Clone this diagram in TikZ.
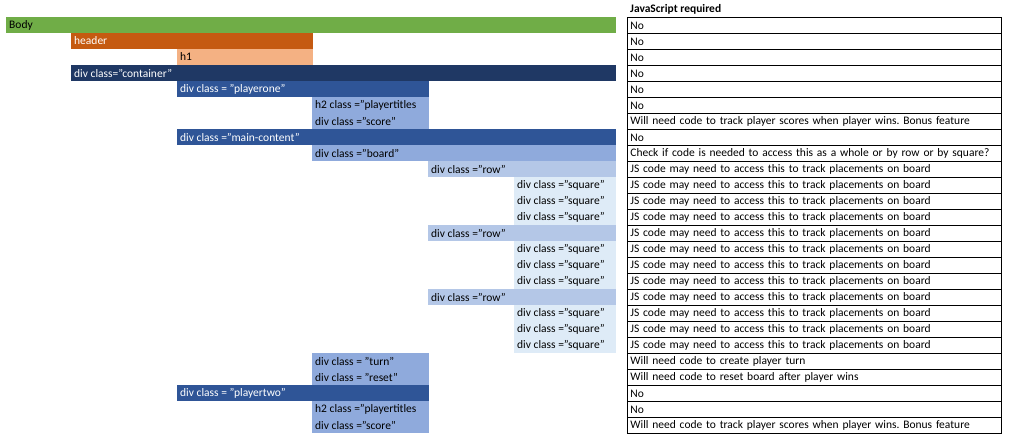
\documentclass[tikz,border=0pt]{standalone}
\usepackage{fontspec}
\setmainfont{Carlito}
\frenchspacing

\definecolor{bodygreen}{HTML}{70AD47}
\definecolor{headorange}{HTML}{C55A11}
\definecolor{hpeach}{HTML}{F4B183}
\definecolor{contnavy}{HTML}{1F3864}
\definecolor{divblue}{HTML}{2F5597}
\definecolor{midblue}{HTML}{8FAADC}
\definecolor{rowblue}{HTML}{B4C7E7}
\definecolor{sqblue}{HTML}{DEEBF7}

\tikzset{
  lbl/.style = {anchor=west, inner xsep=3pt, inner ysep=0pt, font=\fontsize{11.5}{13}\selectfont},
  jscell/.style = {draw, line width=0.8pt, anchor=north west, minimum width=374pt, minimum height=16pt,
    text width=368pt, inner xsep=3pt, inner ysep=0pt, align=left, font=\fontsize{11.5}{13}\selectfont}
}

% name, left, right, row, fill, text colour, text
\newcommand\cellbar[7]{%
  \fill[#5] (#2,{16*(#4)+1}) rectangle (#3,{16*(#4)+17});
  \node[lbl, text=#6] (#1) at (#2,{16*(#4)+9}) {#7};}

\begin{document}
\begin{tikzpicture}[x=1pt,y=-1pt]
\useasboundingbox (0,0) rectangle (1013,445);

% page structure
\cellbar{body}{6}{616}{1}{bodygreen}{black}{Body}
\cellbar{header}{71}{313}{2}{headorange}{white}{header}
\cellbar{hone}{177}{313}{3}{hpeach}{black}{h1}
\cellbar{container}{71}{616}{4}{contnavy}{white}{div class="container"}
\cellbar{playerone}{177}{429}{5}{divblue}{white}{div class = "playerone"}
\cellbar{titlesone}{312}{429}{6}{midblue}{black}{h2 class ="playertitles}
\cellbar{scoreone}{312}{429}{7}{midblue}{black}{div class ="score"}
\cellbar{maincontent}{177}{616}{8}{divblue}{white}{div class ="main-content"}
\cellbar{board}{312}{616}{9}{midblue}{black}{div class ="board"}

% board rows and squares
\foreach \k in {0,1,2}{
  \cellbar{row\k}{428}{616}{10+4*\k}{rowblue}{black}{div class ="row"}
  \foreach \s in {1,2,3}{
    \cellbar{sq\k\s}{514}{616}{10+4*\k+\s}{sqblue}{black}{div class ="square"}
  }
}

\cellbar{turn}{312}{429}{22}{midblue}{black}{div class = "turn"}
\cellbar{reset}{312}{429}{23}{midblue}{black}{div class = "reset"}
\cellbar{playertwo}{177}{429}{24}{divblue}{white}{div class = "playertwo"}
\cellbar{titlestwo}{312}{429}{25}{midblue}{black}{h2 class ="playertitles}
\cellbar{scoretwo}{312}{429}{26}{midblue}{black}{div class ="score"}

% JavaScript column
\node[lbl, font=\fontsize{11.5}{13}\selectfont\bfseries] (jshead) at (627,9) {JavaScript required};
\foreach \r/\t in {1/No, 2/No, 3/No, 4/No, 5/No, 6/No,
    7/Will need code to track player scores when player wins. Bonus feature,
    8/No,
    9/Check if code is needed to access this as a whole or by row or by square?,
    10/JS code may need to access this to track placements on board,
    11/JS code may need to access this to track placements on board,
    12/JS code may need to access this to track placements on board,
    13/JS code may need to access this to track placements on board,
    14/JS code may need to access this to track placements on board,
    15/JS code may need to access this to track placements on board,
    16/JS code may need to access this to track placements on board,
    17/JS code may need to access this to track placements on board,
    18/JS code may need to access this to track placements on board,
    19/JS code may need to access this to track placements on board,
    20/JS code may need to access this to track placements on board,
    21/JS code may need to access this to track placements on board,
    22/Will need code to create player turn,
    23/Will need code to reset board after player wins,
    24/No, 25/No,
    26/Will need code to track player scores when player wins. Bonus feature}{
  \node[jscell] (js\r) at (627,{16*\r+1}) {\t};
}
\end{tikzpicture}
\end{document}
